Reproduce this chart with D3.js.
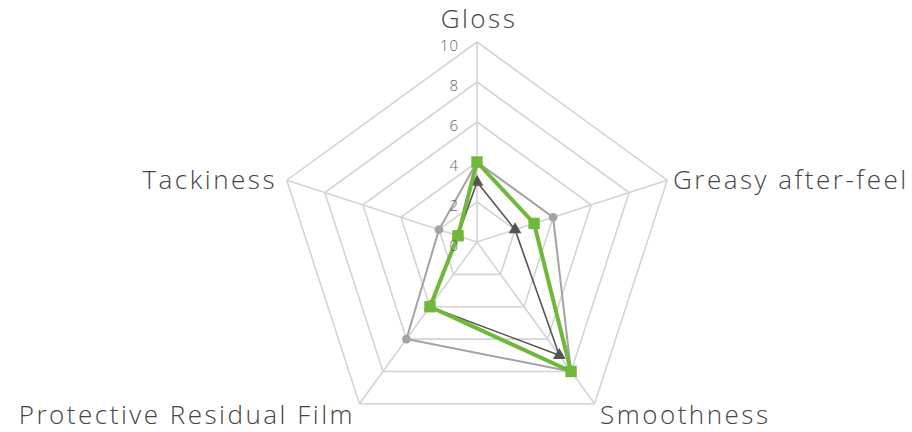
<!DOCTYPE html>
<html>
<head>
<meta charset="utf-8">
<script src="https://cdn.jsdelivr.net/npm/d3@7"></script>
<style>
  body { margin: 0; background: #fff; }
  svg text { font-family: "Open Sans", "DejaVu Sans", sans-serif; }
</style>
</head>
<body>
<svg id="chart"></svg>
<script>
const axes = ["Gloss", "Greasy after-feel", "Smoothness", "Protective Residual Film", "Tackiness"];
const ticks = [0, 2, 4, 6, 8, 10];

const circleSeries = [4, 4, 8, 6, 2];
const triangleSeries = [3, 2, 7, 4, 1];
const squareSeries = [4, 3, 8, 4, 1];

const width = 912;
const height = 432;
const cx = 477;
const cy = 242;
const radius = 200;

const svg = d3.select("#chart")
              .attr("width", width)
              .attr("height", height);

const r = d3.scaleLinear().domain([0, 10]).range([0, radius]);
const angle = d3.scalePoint().domain(axes).range([0, 2 * Math.PI * 4 / 5]);

const px = (a, v) => cx + r(v) * Math.sin(angle(a));
const py = (a, v) => cy - r(v) * Math.cos(angle(a));

const g = svg.append("g");

// grid rings
const ring = d3.line().x(d => px(d[0], d[1])).y(d => py(d[0], d[1])).curve(d3.curveLinearClosed);
g.selectAll(".ring")
 .data(ticks.slice(1))
 .enter()
 .append("path")
 .attr("d", t => ring(axes.map(a => [a, t])))
 .attr("fill", "none")
 .attr("stroke", "#d4d4d4")
 .attr("stroke-width", 1.6);

// spokes
g.selectAll(".spoke")
 .data(axes)
 .enter()
 .append("line")
 .attr("x1", cx).attr("y1", cy)
 .attr("x2", a => px(a, 10)).attr("y2", a => py(a, 10))
 .attr("stroke", "#d4d4d4")
 .attr("stroke-width", 1.6);

// series
const seriesLine = d3.line()
  .x((d, i) => px(axes[i], d))
  .y((d, i) => py(axes[i], d))
  .curve(d3.curveLinearClosed);

const series = [
  { values: circleSeries, color: "#a3a3a3", width: 2, shape: d3.symbolCircle, size: 60 },
  { values: triangleSeries, color: "#555555", width: 1.6, shape: d3.symbolTriangle, size: 70 },
  { values: squareSeries, color: "#6fb83a", width: 4, shape: d3.symbolSquare, size: 130 }
];

series.forEach(s => {
  g.append("path")
   .attr("d", seriesLine(s.values))
   .attr("fill", "none")
   .attr("stroke", s.color)
   .attr("stroke-width", s.width)
   .attr("stroke-linejoin", "round");
  g.selectAll(null)
   .data(s.values)
   .enter()
   .append("path")
   .attr("d", d3.symbol().type(s.shape).size(s.size))
   .attr("transform", (d, i) => `translate(${px(axes[i], d)},${py(axes[i], d)})`)
   .attr("fill", s.color);
});

// tick labels
g.selectAll(".tick")
 .data(ticks)
 .enter()
 .append("text")
 .attr("x", cx - 18)
 .attr("y", t => cy - r(t) + 9)
 .attr("text-anchor", "end")
 .attr("font-size", 15)
 .attr("font-weight", 300)
 .attr("letter-spacing", 1)
 .attr("fill", "#666")
 .text(t => t);

// axis labels
const labelPos = {
  "Gloss": { x: 479, y: 28, anchor: "middle" },
  "Greasy after-feel": { x: 673, y: 189, anchor: "start" },
  "Smoothness": { x: 600, y: 424, anchor: "start" },
  "Protective Residual Film": { x: 355, y: 424, anchor: "end" },
  "Tackiness": { x: 277, y: 189, anchor: "end" }
};

g.selectAll(".axis-label")
 .data(axes)
 .enter()
 .append("text")
 .attr("x", a => labelPos[a].x)
 .attr("y", a => labelPos[a].y)
 .attr("text-anchor", a => labelPos[a].anchor)
 .attr("font-size", 26)
 .attr("font-weight", 300)
 .attr("letter-spacing", 2.5)
 .attr("fill", "#444")
 .text(a => a);
</script>
</body>
</html>
